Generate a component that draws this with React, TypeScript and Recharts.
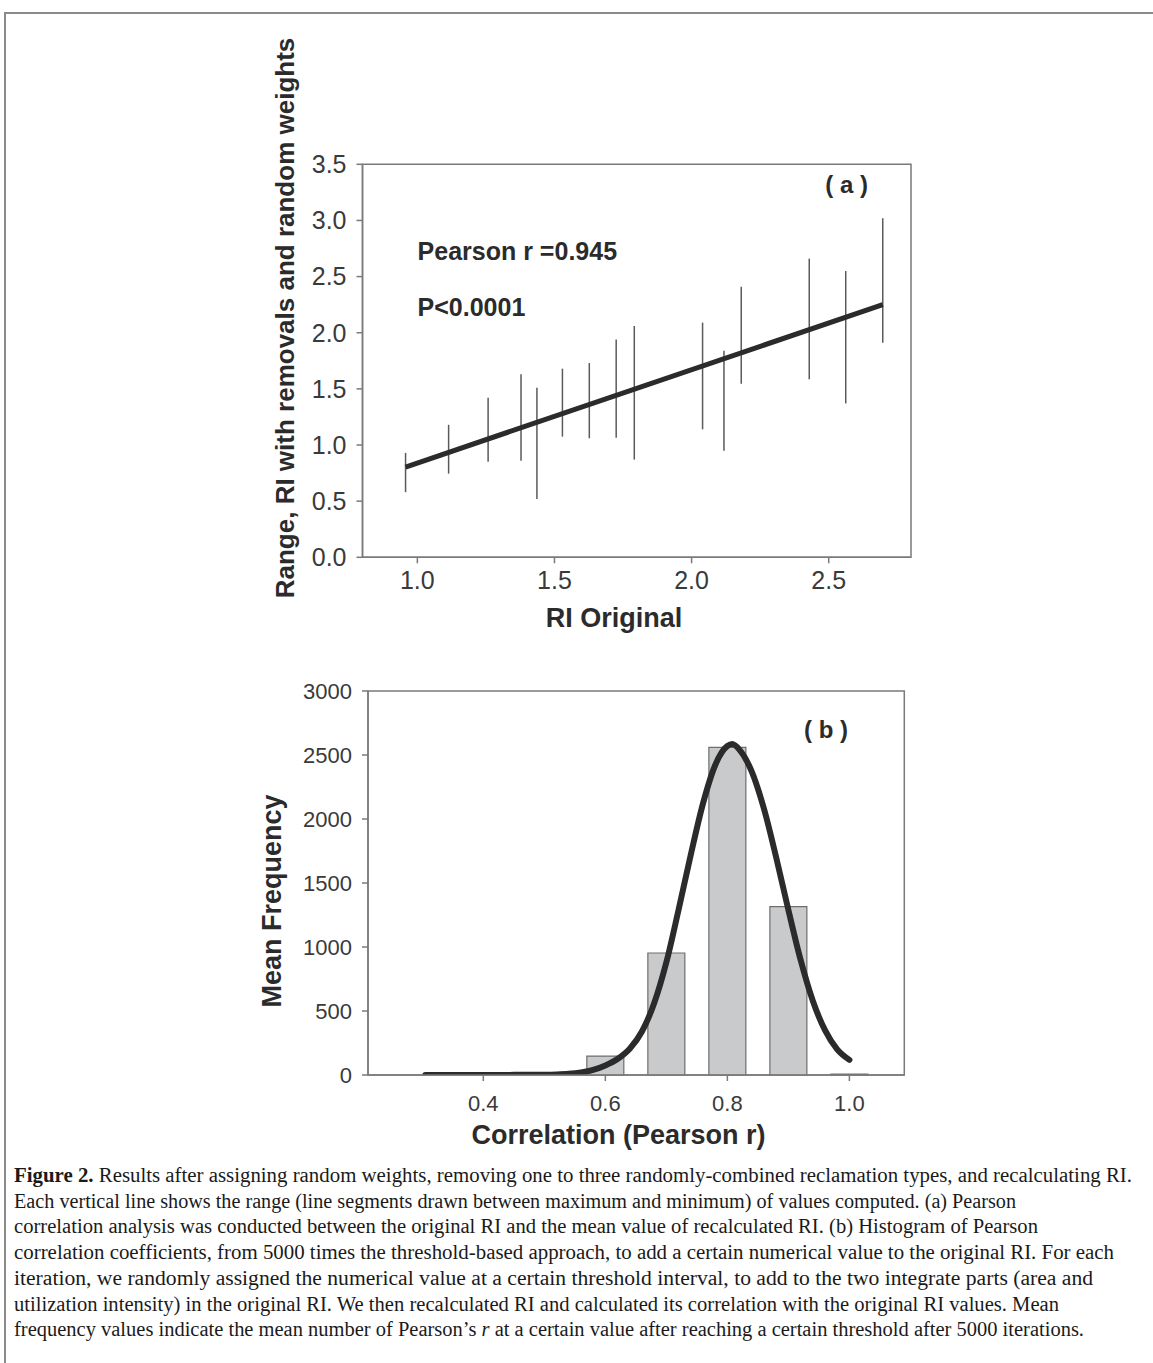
import { ComposedChart, Line, XAxis, YAxis, ReferenceLine, ReferenceArea } from "recharts"

const FONT = "'Liberation Sans', Arial, Helvetica, sans-serif"
const SERIF = "'Liberation Serif', 'Times New Roman', serif"

// panel (a): range of recalculated RI per original RI
const riOriginal = [0.957, 1.114, 1.258, 1.378, 1.436, 1.529, 1.627, 1.725, 1.791, 2.04, 2.118, 2.181, 2.429, 2.562, 2.697]
const riMax = [0.93, 1.18, 1.42, 1.63, 1.51, 1.68, 1.73, 1.94, 2.06, 2.09, 1.84, 2.41, 2.66, 2.55, 3.02]
const riMin = [0.58, 0.745, 0.85, 0.86, 0.52, 1.075, 1.06, 1.065, 0.87, 1.14, 0.95, 1.545, 1.585, 1.37, 1.91]
const fitX = [0.957, 2.697]
const fitY = [0.804, 2.25]
const riXTicks = [1.0, 1.5, 2.0, 2.5]
const riYTicks = [0, 0.5, 1.0, 1.5, 2.0, 2.5, 3.0, 3.5]

// panel (b): histogram of Pearson r + fitted curve
const pearsonBins = [0.6, 0.7, 0.8, 0.9, 1.0]
const meanFrequency = [148, 953, 2560, 1315, 8]
const curveX = [0.305, 0.35, 0.4, 0.45, 0.5, 0.52, 0.54, 0.56, 0.58, 0.6, 0.62, 0.64, 0.66, 0.68, 0.7, 0.72, 0.74, 0.76, 0.78, 0.8, 0.808, 0.82, 0.84, 0.86, 0.88, 0.9, 0.92, 0.94, 0.96, 0.98, 1.0]
const curveY = [0, 0, 0, 1, 2, 4, 9, 20, 40, 75, 125, 205, 340, 560, 880, 1290, 1720, 2120, 2420, 2570, 2585, 2540, 2370, 2080, 1700, 1290, 900, 580, 350, 200, 118]
const corrXTicks = [0.4, 0.6, 0.8, 1.0]
const freqTicks = [0, 500, 1000, 1500, 2000, 2500, 3000]
const BIN_HALF = 0.0303

const fitData = fitX.map((x, i) => ({ x, y: fitY[i] }))
const curveData = curveX.map((x, i) => ({ x, y: curveY[i] }))

const AXIS = "#7a7a7a"
const axisBase = {
  axisLine: { stroke: AXIS, strokeWidth: 1.5 },
  tickLine: { stroke: AXIS, strokeWidth: 1.5 },
  tickSize: 6,
  interval: 0 as const,
}

const captionLines = [
  <>
    <tspan fontWeight="bold">Figure 2.</tspan> Results after assigning random weights, removing one to three randomly-combined reclamation types, and recalculating RI.
  </>,
  <>Each vertical line shows the range (line segments drawn between maximum and minimum) of values computed. (a) Pearson</>,
  <>correlation analysis was conducted between the original RI and the mean value of recalculated RI. (b) Histogram of Pearson</>,
  <>correlation coefficients, from 5000 times the threshold-based approach, to add a certain numerical value to the original RI. For each</>,
  <>iteration, we randomly assigned the numerical value at a certain threshold interval, to add to the two integrate parts (area and</>,
  <>utilization intensity) in the original RI. We then recalculated RI and calculated its correlation with the original RI values. Mean</>,
  <>
    frequency values indicate the mean number of Pearson’s <tspan fontStyle="italic">r</tspan> at a certain value after reaching a certain threshold after 5000 iterations.
  </>,
]
const captionWidths = [1118, 1002, 1024, 1100, 1079, 1045, 1070]

function RangePanel() {
  const tick = { fontSize: 25, fill: "#3a3a3a", fontFamily: FONT }
  return (
    <ComposedChart
      width={1153}
      height={640}
      margin={{ top: 164.3, right: 242, bottom: 42.7, left: 302.5 }}
    >
      <XAxis
        type="number"
        dataKey="x"
        domain={[0.8, 2.8]}
        ticks={riXTicks}
        tickFormatter={(v) => Number(v).toFixed(1)}
        height={40}
        tickMargin={8}
        tick={tick}
        allowDataOverflow
        {...axisBase}
      />
      <YAxis
        type="number"
        domain={[0, 3.5]}
        ticks={riYTicks}
        tickFormatter={(v) => Number(v).toFixed(1)}
        width={60}
        tickMargin={10}
        tick={tick}
        allowDataOverflow
        {...axisBase}
      />
      <ReferenceArea x1={0.8} x2={2.8} y1={0} y2={3.5} fill="none" fillOpacity={0} stroke={AXIS} strokeWidth={1.5} />
      {riOriginal.map((x, i) => (
        <ReferenceLine
          key={i}
          segment={[{ x, y: riMin[i] }, { x, y: riMax[i] }]}
          stroke="#5a5a5a"
          strokeWidth={1.5}
        />
      ))}
      <Line
        data={fitData}
        dataKey="y"
        type="linear"
        stroke="#2b2b2b"
        strokeWidth={5}
        dot={false}
        activeDot={false}
        isAnimationActive={false}
      />
    </ComposedChart>
  )
}

function HistPanel() {
  const tick = { fontSize: 22, fill: "#3a3a3a", fontFamily: FONT }
  return (
    <ComposedChart
      width={1153}
      height={500}
      margin={{ top: 51, right: 248.7, bottom: 25, left: 308 }}
    >
      <XAxis
        type="number"
        dataKey="x"
        domain={[0.211, 1.09]}
        ticks={corrXTicks}
        tickFormatter={(v) => Number(v).toFixed(1)}
        height={40}
        tickMargin={14}
        tick={tick}
        allowDataOverflow
        {...axisBase}
      />
      <YAxis
        type="number"
        domain={[0, 3000]}
        ticks={freqTicks}
        width={60}
        tickMargin={10}
        tick={tick}
        allowDataOverflow
        {...axisBase}
      />
      <ReferenceArea x1={0.211} x2={1.09} y1={0} y2={3000} fill="none" fillOpacity={0} stroke={AXIS} strokeWidth={1.5} />
      {pearsonBins.map((x, i) => (
        <ReferenceArea
          key={i}
          x1={x - BIN_HALF}
          x2={x + BIN_HALF}
          y1={0}
          y2={meanFrequency[i]}
          fill="#c9cacc"
          fillOpacity={1}
          stroke="#6e6e6e"
          strokeWidth={1.2}
        />
      ))}
      <Line
        data={curveData}
        dataKey="y"
        type="monotone"
        stroke="#2b2b2b"
        strokeWidth={6}
        strokeLinecap="round"
        dot={false}
        activeDot={false}
        isAnimationActive={false}
      />
    </ComposedChart>
  )
}

export default function App() {
  const title = { fontFamily: FONT, fontWeight: "bold" as const, fill: "#2b2b2b" }
  return (
    <div style={{ position: "absolute", left: 0, top: 0, width: 1153, height: 1363, background: "#fff", overflow: "hidden" }}>
      <div
        style={{
          position: "absolute",
          left: 4,
          top: 12,
          width: 1200,
          height: 1400,
          borderTop: "2px solid #8a8a8a",
          borderLeft: "2px solid #8a8a8a",
        }}
      />
      <div style={{ position: "absolute", left: 0, top: 0 }}>
        <RangePanel />
      </div>
      <div style={{ position: "absolute", left: 0, top: 640 }}>
        <HistPanel />
      </div>
      <svg width={1153} height={1363} style={{ position: "absolute", left: 0, top: 0, pointerEvents: "none" }}>
        <text x={417.6} y={260} fontSize={25} {...title}>Pearson r =0.945</text>
        <text x={417.6} y={316} fontSize={25} {...title}>P&lt;0.0001</text>
        <text x={868} y={193} fontSize={24} textAnchor="end" {...title}>( a )</text>
        <text x={614} y={627} fontSize={27} textAnchor="middle" {...title}>RI Original</text>
        <text transform="translate(294,318) rotate(-90)" fontSize={26} textAnchor="middle" {...title}>
          Range, RI with removals and random weights
        </text>

        <text x={848} y={738} fontSize={24} textAnchor="end" {...title}>( b )</text>
        <text transform="translate(281,901) rotate(-90)" fontSize={27} textAnchor="middle" {...title}>
          Mean Frequency
        </text>
        <text x={618.5} y={1144} fontSize={27} textAnchor="middle" {...title}>Correlation (Pearson r)</text>

        {captionLines.map((line, i) => (
          <text
            key={i}
            x={14}
            y={1182 + i * 25.7}
            fontSize={20}
            fontFamily={SERIF}
            fill="#1a1a1a"
            textLength={captionWidths[i]}
            lengthAdjust="spacingAndGlyphs"
          >
            {line}
          </text>
        ))}
      </svg>
    </div>
  )
}
